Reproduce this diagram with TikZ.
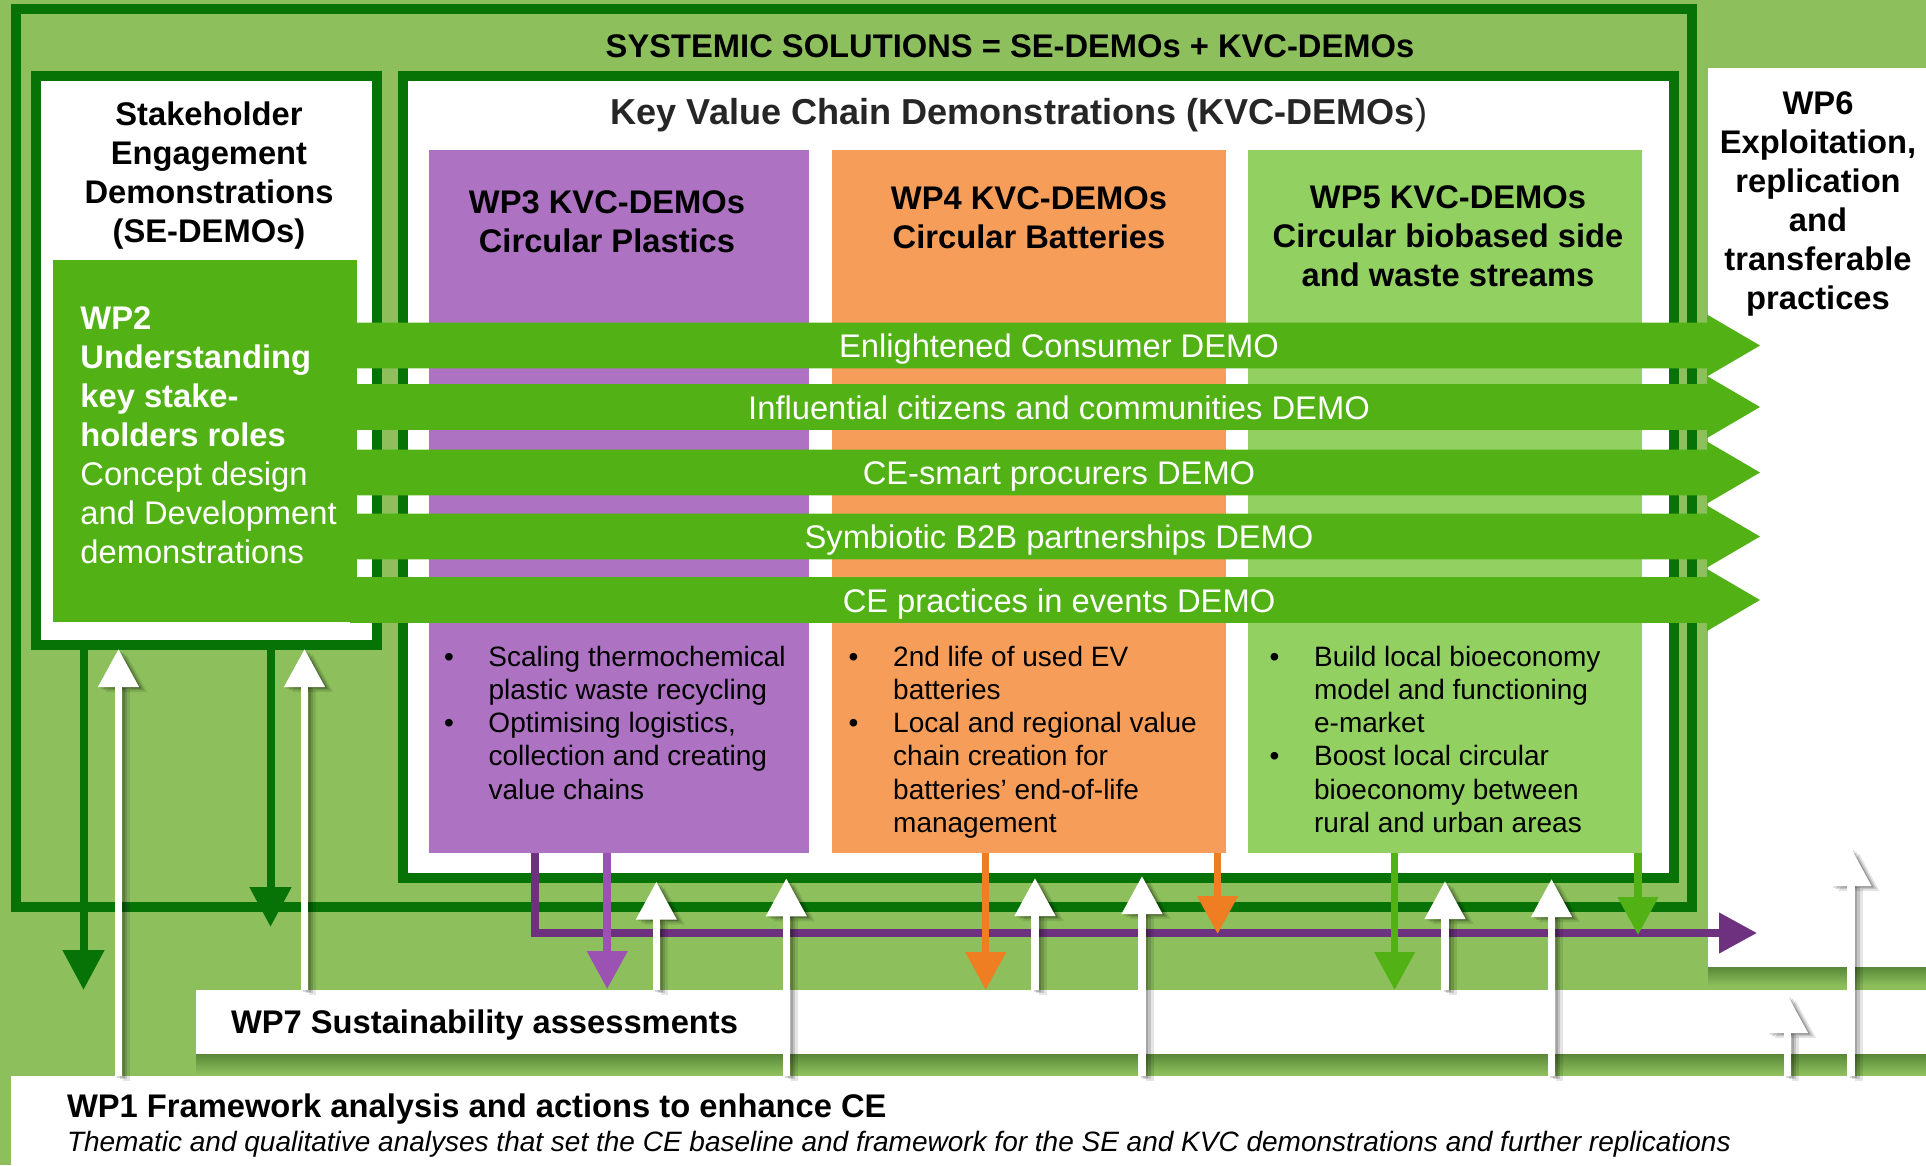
\documentclass[tikz,border=0pt]{standalone}
\usepackage{fontspec}
\setmainfont{Liberation Sans}
\usetikzlibrary{arrows.meta}
\definecolor{bggreen}{HTML}{8DC05C}
\definecolor{dkgreen}{HTML}{077307}
\definecolor{bandgreen}{HTML}{52B215}
\definecolor{wpfivegreen}{HTML}{92D062}
\definecolor{purplebox}{HTML}{AD72C1}
\definecolor{orangebox}{HTML}{F69E59}
\definecolor{purpledark}{HTML}{6E3180}
\definecolor{purplemid}{HTML}{9B52B2}
\definecolor{orangearr}{HTML}{EF7D22}
\definecolor{textgray}{HTML}{262626}
\definecolor{shadowgreen}{HTML}{5A8838}
\newcommand{\wpbig}{\fontsize{32.7}{39}\selectfont}
\newcommand{\wpsmall}{\fontsize{28}{33.3}\selectfont}
\newcommand{\wpbullets}[1]{\begin{tabular}[t]{@{}p{44.5pt}@{}l@{}}#1\end{tabular}}
\newcommand{\wpcentre}[1]{\begin{tabular}[t]{@{}c@{}}#1\end{tabular}}
\begin{document}
\begin{tikzpicture}[x=1pt,y=-1pt,
  every node/.style={inner sep=0pt,outer sep=0pt},
  box/.style={anchor=north west,inner sep=0pt,outer sep=0pt},
  frame/.style={box,draw=dkgreen,line width=10pt},
  heavy/.style={font=\wpbig\bfseries},
  bandlabel/.style={anchor=base,text=white,font=\wpbig},
  colarr/.style={line width=7.5pt,-{Triangle[width=39pt,length=38pt]}},
  darr/.style={draw=dkgreen,line width=8pt,-{Triangle[width=40pt,length=40pt]}},
  warr/.style={draw=white,colarr},
  wshad/.style={draw=black,opacity=#1,colarr},
]
\useasboundingbox (0,0) rectangle (1926,1165);
\fill[bggreen] (0,0) rectangle (1926,1165);

% white lower / right boxes with their shadows
\node[box,fill=white,minimum width=1915pt,minimum height=89pt] (wp1) at (11,1076) {};
\shade[top color=shadowgreen,bottom color=bggreen] (196,1054) rectangle (1926,1074);
\node[box,fill=white,minimum width=1730pt,minimum height=64pt] (wp7) at (196,990) {};
\shade[top color=shadowgreen,bottom color=bggreen] (1708,967) rectangle (1926,986);
\node[box,fill=white,minimum width=218pt,minimum height=899pt] (wp6) at (1708,68) {};

% frames
\node[frame,minimum width=1676.5pt,minimum height=897.7pt] (sys) at (15.5,9) {};
\node[frame,fill=white,minimum width=341.3pt,minimum height=569pt] (se) at (36,76) {};
\node[frame,fill=white,minimum width=1270.7pt,minimum height=802.3pt] (kvc) at (403.3,76) {};

% KVC boxes
\node[box,fill=purplebox,minimum width=380pt,minimum height=703pt] (wp3) at (429,150) {};
\node[box,fill=orangebox,minimum width=394pt,minimum height=703pt] (wp4) at (832,150) {};
\node[box,fill=wpfivegreen,minimum width=394pt,minimum height=703pt] (wp5) at (1248,150) {};

% WP2 box
\node[box,fill=bandgreen,minimum width=304pt,minimum height=362pt] (wp2) at (53,260) {};

% demo bands
\foreach \c in {345.5,407,472.5,536.5,600}{
  \fill[bandgreen] (350,\c-22.8) -- (1707,\c-22.8) -- (1707,\c-31) -- (1760,\c)
     -- (1707,\c+31) -- (1707,\c+22.8) -- (350,\c+22.8) -- cycle;
}

% texts
\node[heavy,anchor=base] (systitle) at (1010,57) {SYSTEMIC SOLUTIONS = SE-DEMOs + KVC-DEMOs};
\node[anchor=base,text=textgray,font=\fontsize{36.1}{42}\selectfont\bfseries] (kvctitle) at (1018.9,124)
  {Key Value Chain Demonstrations (KVC-DEMOs{\mdseries )}};
\node[heavy,anchor=base] (setext) at (209,125.5)
  {\wpcentre{Stakeholder\\Engagement\\Demonstrations\\(SE-DEMOs)}};
\node[anchor=base west,text=white,font=\wpbig] (wp2text) at (80.4,329.3)
  {\begin{tabular}[t]{@{}l@{}}\textbf{WP2}\\\textbf{Understanding}\\\textbf{key stake-}\\\textbf{holders roles}\\Concept design\\and Development\\demonstrations\end{tabular}};
\node[heavy,anchor=base] (wp3title) at (607,213.3) {\wpcentre{WP3 KVC-DEMOs\\Circular Plastics}};
\node[heavy,anchor=base] (wp4title) at (1029,209.5) {\wpcentre{WP4 KVC-DEMOs\\Circular Batteries}};
\node[heavy,anchor=base] (wp5title) at (1448,208.5) {\wpcentre{WP5 KVC-DEMOs\\Circular biobased side\\and waste streams}};
\node[heavy,anchor=base] (wp6text) at (1818,114)
  {\wpcentre{WP6\\Exploitation,\\replication\\and\\transferable\\practices}};

\node[bandlabel] (band1) at (1059,357.5) {Enlightened Consumer DEMO};
\node[bandlabel] (band2) at (1059,419) {Influential citizens and communities DEMO};
\node[bandlabel] (band3) at (1059,484.5) {CE-smart procurers DEMO};
\node[bandlabel] (band4) at (1059,548.5) {Symbiotic B2B partnerships DEMO};
\node[bandlabel] (band5) at (1059,612) {CE practices in events DEMO};

\node[anchor=base west,font=\wpsmall] (wp3list) at (444,666)
  {\wpbullets{•&Scaling thermochemical\\&plastic waste recycling\\•&Optimising logistics,\\&collection and creating\\&value chains}};
\node[anchor=base west,font=\wpsmall] (wp4list) at (848.7,666)
  {\wpbullets{•&2nd life of used EV\\&batteries\\•&Local and regional value\\&chain creation for\\&batteries’ end-of-life\\&management}};
\node[anchor=base west,font=\wpsmall] (wp5list) at (1269.6,666)
  {\wpbullets{•&Build local bioeconomy\\&model and functioning\\&e-market\\•&Boost local circular\\&bioeconomy between\\&rural and urban areas}};

\node[heavy,anchor=base west] (wp7text) at (231,1033.5) {WP7 Sustainability assessments};
\node[heavy,anchor=base west] (wp1title) at (67,1117.5) {WP1 Framework analysis and actions to enhance CE};
\node[anchor=base west,font=\wpsmall\itshape] (wp1sub) at (67,1151.7)
  {Thematic and qualitative analyses that set the CE baseline and framework for the SE and KVC demonstrations and further replications};

% connector end points
\coordinate (gA) at (83.5,990);
\coordinate (gB) at (270.5,927);
\coordinate (pcorner) at (535,933);
\coordinate (pend) at (1757,933);
\coordinate (pmid) at (607.2,989);
\coordinate (o1) at (985.7,990);
\coordinate (o2) at (1217.6,934);
\coordinate (g1) at (1394.6,990);
\coordinate (g2) at (1638,935);
\coordinate (w1) at (118.5,649);
\coordinate (w2) at (304.5,649);
\coordinate (w3) at (656.3,881.7);
\coordinate (w4) at (786.3,878.3);
\coordinate (w5) at (1035,878);
\coordinate (w6) at (1142,876);
\coordinate (w7) at (1445,881);
\coordinate (w8) at (1551.5,879);
\coordinate (w9) at (1787.5,995);
\coordinate (w10) at (1851,848);

% connectors
\draw[darr] (se.south -| gA) -- (gA);
\draw[darr] (se.south -| gB) -- (gB);
\draw[draw=purpledark,colarr] (wp3.south -| pcorner) -- (pcorner) -- (pend);
\draw[draw=purplemid,colarr] (wp3.south -| pmid) -- (pmid);
\draw[draw=orangearr,colarr] (wp4.south -| o1) -- (o1);
\draw[draw=orangearr,colarr] (wp4.south -| o2) -- (o2);
\draw[draw=bandgreen,colarr] (wp5.south -| g1) -- (g1);
\draw[draw=bandgreen,colarr] (wp5.south -| g2) -- (g2);

\foreach \s/\t in {wp1/w1,wp7/w2,wp7/w3,wp1/w4,wp7/w5,wp1/w6,wp7/w7,wp1/w8,wp1/w9,wp1/w10}{
  \draw[wshad=0.10,transform canvas={shift={(8pt,-5pt)}}] (\s.north -| \t) -- (\t);
  \draw[wshad=0.14,transform canvas={shift={(5pt,-3pt)}}] (\s.north -| \t) -- (\t);
  \draw[wshad=0.16,transform canvas={shift={(2.5pt,-1.5pt)}}] (\s.north -| \t) -- (\t);
}
\foreach \s/\t in {wp1/w1,wp7/w2,wp7/w3,wp1/w4,wp7/w5,wp1/w6,wp7/w7,wp1/w8,wp1/w9,wp1/w10}{
  \draw[warr] (\s.north -| \t) -- (\t);
}
\end{tikzpicture}
\end{document}
